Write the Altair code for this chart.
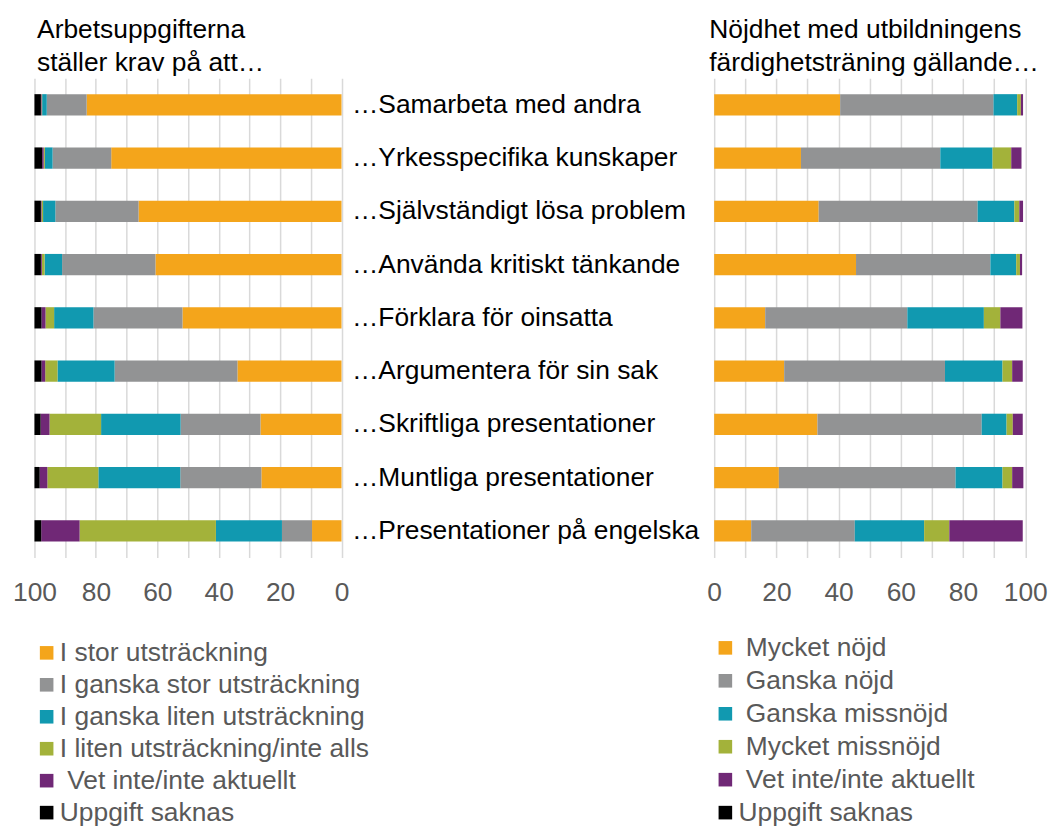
import altair as alt
import pandas as pd

categories = [
    "…Samarbeta med andra",
    "…Yrkesspecifika kunskaper",
    "…Självständigt lösa problem",
    "…Använda kritiskt tänkande",
    "…Förklara för oinsatta",
    "…Argumentera för sin sak",
    "…Skriftliga presentationer",
    "…Muntliga presentationer",
    "…Presentationer på engelska",
]

left_levels = [
    "I stor utsträckning",
    "I ganska stor utsträckning",
    "I ganska liten utsträckning",
    "I liten utsträckning/inte alls",
    "Vet inte/inte aktuellt",
    "Uppgift saknas",
]
left_stor = [83.0, 75.0, 66.1, 60.6, 51.8, 33.9, 26.4, 26.1, 9.6]
left_gstor = [13.0, 19.1, 27.1, 30.4, 29.0, 40.0, 26.0, 26.4, 9.8]
left_gliten = [1.5, 2.5, 4.0, 5.7, 12.8, 18.6, 25.9, 26.7, 21.5]
left_liten = [0.2, 0.4, 0.5, 0.9, 2.8, 4.0, 16.8, 16.6, 44.4]
left_vet = [0.2, 0.5, 0.2, 0.3, 1.3, 1.2, 2.9, 2.5, 12.5]
left_saknas = [2.1, 2.5, 2.1, 2.1, 2.3, 2.3, 2.0, 1.7, 2.2]

right_levels = [
    "Mycket nöjd",
    "Ganska nöjd",
    "Ganska missnöjd",
    "Mycket missnöjd",
    "Vet inte/inte aktuellt",
    "Uppgift saknas",
]
right_mn = [40.5, 27.9, 33.6, 45.6, 16.4, 22.5, 33.2, 20.8, 11.9]
right_gn = [49.3, 44.8, 51.1, 43.2, 45.7, 51.7, 52.8, 56.8, 33.3]
right_gm = [7.6, 16.8, 11.8, 8.3, 24.6, 18.5, 8.0, 15.1, 22.3]
right_mm = [1.2, 6.0, 1.6, 1.2, 5.3, 3.1, 2.0, 3.1, 8.1]
right_vet = [0.7, 3.3, 1.2, 0.7, 7.1, 3.4, 3.2, 3.6, 23.6]
right_saknas = [0, 0, 0, 0, 0, 0, 0, 0, 0]

colors = ["#F4A51B", "#929394", "#1199B0", "#A3B23A", "#702876", "#000000"]

left_title = ["Arbetsuppgifterna", "ställer krav på att…"]
right_title = ["Nöjdhet med utbildningens", "färdighetsträning gällande…"]
x_ticks = list(range(0, 101, 10))

FS = 26.4
# zero-width space + no-break space: a leading gap that survives trimming
GAP = "\u200b\u00a0"


def long_frame(levels, series):
    rows = []
    for li, (lev, vals) in enumerate(zip(levels, series)):
        for cat, v in zip(categories, vals):
            rows.append({"cat": cat, "level": lev, "idx": li, "value": v})
    return pd.DataFrame(rows)


df_left = long_frame(left_levels, [left_stor, left_gstor, left_gliten, left_liten, left_vet, left_saknas])
df_right = long_frame(right_levels, [right_mn, right_gn, right_gm, right_mm, right_vet, right_saknas])


def x_axis():
    return alt.Axis(
        values=x_ticks,
        labelExpr="datum.value % 20 == 0 ? datum.label : ''",
        grid=True,
        gridColor="#D9D9D9",
        gridWidth=1.5,
        domain=False,
        ticks=False,
        tickSize=0,
        labelFontSize=FS,
        labelColor="#595959",
        labelPadding=22,
        labelFlush=False,
        title=None,
    )


def title(lines, dx):
    return alt.TitleParams(
        text=lines,
        anchor="start",
        frame="group",
        dx=dx,
        fontSize=FS,
        fontWeight="normal",
        color="black",
        lineHeight=33,
        baseline="alphabetic",
        offset=-19.5,
    )


def legend(x, y, rowpad, expr):
    return alt.Legend(orient="none", legendX=x, legendY=y,
                      direction="vertical", title=None,
                      symbolType="square", symbolSize=185,
                      symbolStrokeWidth=0, labelFontSize=FS,
                      labelColor="#595959", rowPadding=rowpad,
                      labelOffset=0, labelLimit=0, padding=0,
                      labelExpr=expr)


left = alt.Chart(df_left, title=title(left_title, 2.6)).mark_bar().encode(
    x=alt.X("value:Q", stack="zero",
            scale=alt.Scale(domain=[0, 100], reverse=True, nice=False),
            axis=x_axis()),
    y=alt.Y("cat:N", sort=categories,
            scale=alt.Scale(paddingInner=0.6, paddingOuter=0.3),
            axis=alt.Axis(orient="right", domain=False, ticks=False, grid=False,
                          labelFontSize=FS, labelColor="black", labelPadding=10,
                          labelLimit=0, title=None)),
    color=alt.Color("level:N",
                    scale=alt.Scale(domain=left_levels, range=colors),
                    legend=legend(-1, 562.3, 5.0,
                                  "datum.label == 'Vet inte/inte aktuellt' ? '" + GAP + "' + datum.label : datum.label")),
    order=alt.Order("idx:Q"),
).properties(width=307.5, height=480)

right = alt.Chart(df_right, title=title(right_title, -5)).mark_bar().encode(
    x=alt.X("value:Q", stack="zero",
            scale=alt.Scale(domain=[0, 100], nice=False),
            axis=x_axis()),
    y=alt.Y("cat:N", sort=categories,
            scale=alt.Scale(paddingInner=0.6, paddingOuter=0.3),
            axis=None),
    color=alt.Color("level:N",
                    scale=alt.Scale(domain=right_levels, range=colors),
                    legend=legend(-2, 557.3, 6.0,
                                  "datum.label == 'Uppgift saknas' ? datum.label : '" + GAP + "' + datum.label")),
    order=alt.Order("idx:Q"),
).properties(width=311.5, height=480)

chart = alt.hconcat(left, right, spacing=372.7, bounds="flush").resolve_scale(
    x="independent", color="independent"
).properties(
    padding={"left": 3.5, "top": 8.7, "right": 0, "bottom": 0}
).configure(font="Liberation Sans").configure_view(stroke=None)

chart.save("out.html", embed_options={"renderer": "svg", "actions": False})
